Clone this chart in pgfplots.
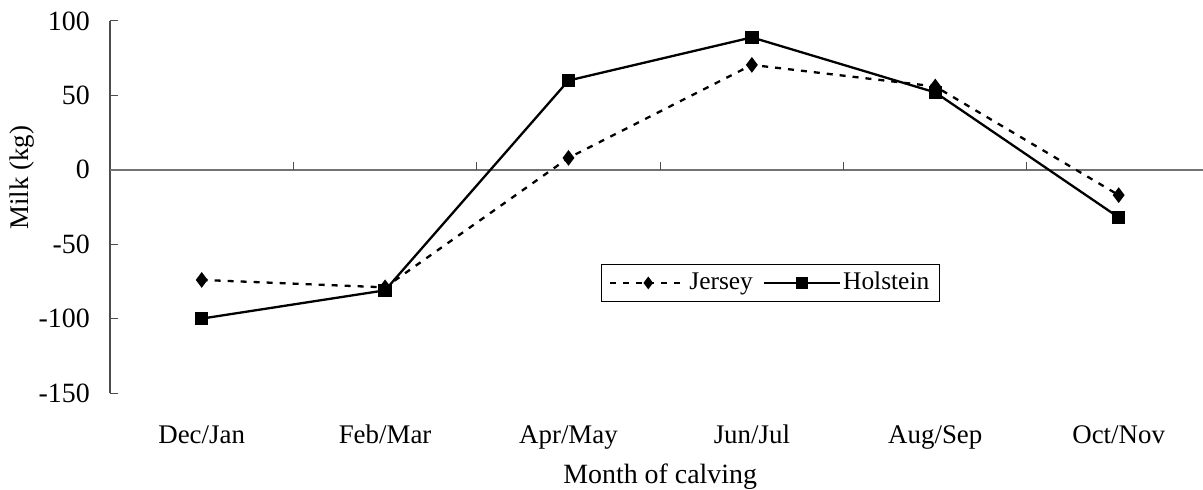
\documentclass[border=0pt]{standalone}
\usepackage{fontspec}
\setmainfont{Liberation Serif}
\usepackage{pgfplots}
\pgfplotsset{compat=1.18}
\begin{document}
\fontsize{27}{31}\selectfont
\begin{tikzpicture}
\begin{axis}[
  at={(0bp,0bp)}, anchor=south west,
  scale only axis,
  width=1093bp, height=372bp,
  xmin=-0.5, xmax=5.46,
  ymin=-150, ymax=100,
  axis x line=none,
  axis y line*=left,
  y axis line style={color=black!70, line width=1.2bp, -},
  ytick={-150,-100,-50,0,50,100},
  yticklabels={-150,-100,-50,0,50,100},
  ytick style={color=black!70, line width=1bp},
  tick align=inside,
  major tick length=8bp,
  yticklabel style={font=\fontsize{28}{32}\selectfont, xshift=-11bp},
  clip=false,
  legend style={at={(0.604,0.296)}, anchor=center, legend columns=-1,
    draw=black, line width=1bp, font=\fontsize{25.5}{29}\selectfont,
    inner xsep=8bp, inner ysep=6bp,
    /tikz/every even column/.append style={column sep=8bp}},
  legend image code/.code={
    \draw[#1, mark size=4.5bp] (0bp,0bp) -- (38bp,0bp) plot coordinates {(38bp,0bp)} -- (76bp,0bp);
  },
]
\draw[color=black!55, line width=1.5bp] (axis cs:-0.5,0) -- (axis cs:5.46,0);
\draw[color=black!70, line width=1bp] (axis cs:0.5,0) -- ++(0pt,8bp);
\draw[color=black!70, line width=1bp] (axis cs:1.5,0) -- ++(0pt,8bp);
\draw[color=black!70, line width=1bp] (axis cs:2.5,0) -- ++(0pt,8bp);
\draw[color=black!70, line width=1bp] (axis cs:3.5,0) -- ++(0pt,8bp);
\draw[color=black!70, line width=1bp] (axis cs:4.5,0) -- ++(0pt,8bp);
\addplot[black, line width=2.3bp, dash pattern=on 6bp off 7bp, mark=diamond*, mark size=6bp, mark options={solid}]
  coordinates {(0,-74) (1,-79) (2,8) (3,70.5) (4,56) (5,-17)};
\addlegendentry{Jersey}
\addplot[black, line width=2.3bp, mark=square*, mark size=5.5bp, mark options={solid}]
  coordinates {(0,-100) (1,-81) (2,60) (3,89) (4,52) (5,-32)};
\addlegendentry{Holstein}
\node[anchor=base, yshift=-50bp] at (axis cs:0,-150) {Dec/Jan};
\node[anchor=base, yshift=-50bp] at (axis cs:1,-150) {Feb/Mar};
\node[anchor=base, yshift=-50bp] at (axis cs:2,-150) {Apr/May};
\node[anchor=base, yshift=-50bp] at (axis cs:3,-150) {Jun/Jul};
\node[anchor=base, yshift=-50bp] at (axis cs:4,-150) {Aug/Sep};
\node[anchor=base, yshift=-50bp] at (axis cs:5,-150) {Oct/Nov};
\node[anchor=base, yshift=-90bp, font=\fontsize{28}{32}\selectfont] at (axis cs:2.5,-150) {Month of calving};
\node[rotate=90, anchor=center] at ([xshift=-88bp,yshift=-8bp]axis cs:-0.5,0) {Milk (kg)};
\end{axis}
\pgfresetboundingbox
\useasboundingbox (-110bp,-97bp) rectangle (1093bp,393bp);
\end{tikzpicture}
\end{document}
